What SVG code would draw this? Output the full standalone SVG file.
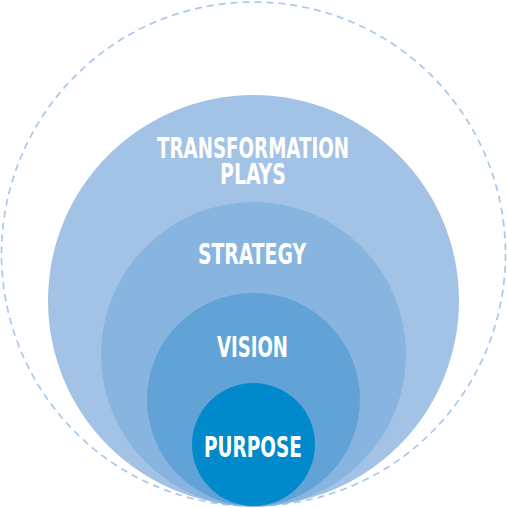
<svg xmlns="http://www.w3.org/2000/svg" width="507" height="508" viewBox="0 0 507 508">
<style>
.lbl{font-family:"Liberation Sans Narrow","DejaVu Sans Condensed","Liberation Sans",sans-serif;font-weight:bold;font-size:28px;fill:#ffffff;}
</style>
<rect width="507" height="508" fill="#ffffff"/>
<g id="boundary">
<circle cx="253.5" cy="254" r="252" fill="none" stroke="#A9C8EA" stroke-width="1.7" stroke-dasharray="7 5"/>
</g>
<g id="transformation-plays">
<circle cx="253.5" cy="300.5" r="205.5" fill="#A3C3E6"/>
<text class="lbl" x="157" y="158" textLength="192" lengthAdjust="spacingAndGlyphs">TRANSFORMATION</text>
<text class="lbl" x="220" y="184" textLength="66" lengthAdjust="spacingAndGlyphs">PLAYS</text>
</g>
<g id="strategy">
<circle cx="253.5" cy="354.5" r="152.5" fill="#88B4E0"/>
<text class="lbl" x="198" y="264" textLength="108" lengthAdjust="spacingAndGlyphs">STRATEGY</text>
</g>
<g id="vision">
<circle cx="253.5" cy="399.5" r="106.5" fill="#62A3D7"/>
<text class="lbl" x="217" y="357" textLength="71" lengthAdjust="spacingAndGlyphs">VISION</text>
</g>
<g id="purpose">
<circle cx="253.5" cy="444.5" r="61.5" fill="#008ACB"/>
<text class="lbl" x="204" y="457" textLength="98" lengthAdjust="spacingAndGlyphs">PURPOSE</text>
</g>
<g id="connectors"/>
</svg>
